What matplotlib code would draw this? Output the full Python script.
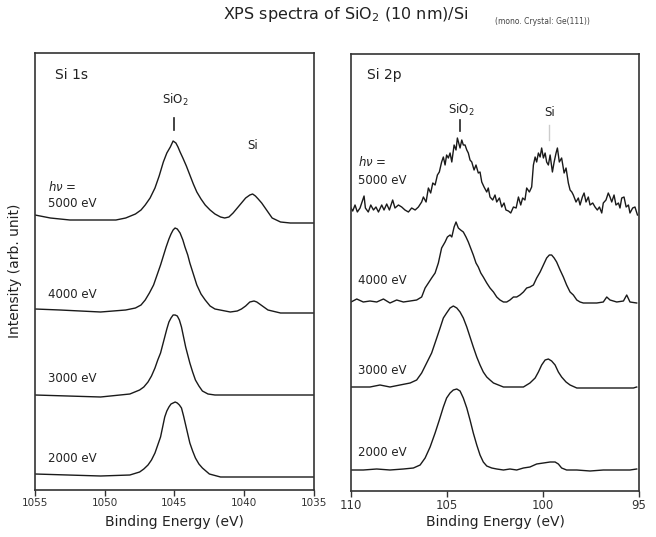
import matplotlib
matplotlib.use("Agg")
import matplotlib.pyplot as plt

# ---------------- data ----------------
# Si 1s panel: binding energy (eV) and intensity (arb. unit) above each baseline
si1s_e_5000 = [1055.0, 1053.9, 1052.5, 1050.3, 1049.2, 1048.5, 1047.8, 1047.4, 1047.1, 1046.75,
               1046.4, 1046.1, 1045.8, 1045.55, 1045.3, 1045.1, 1044.9, 1044.75, 1044.6, 1044.4,
               1044.15, 1043.9, 1043.65, 1043.4, 1043.1, 1042.8, 1042.45, 1042.1, 1041.7, 1041.4,
               1041.1, 1040.8, 1040.5, 1040.2, 1039.9, 1039.6, 1039.4, 1039.2, 1039.0, 1038.75,
               1038.5, 1038.25, 1038.0, 1037.4, 1036.7, 1035.0]
si1s_i_5000 = [5, 2, 0, 0, 0, 2, 6, 10, 15, 22,
               32, 44, 58, 67, 73, 79, 77, 73, 68, 62,
               54, 45, 36, 28, 21, 15, 10, 6, 3, 2,
               3, 7, 12, 17, 22, 25, 26, 24, 21, 17,
               12, 7, 2, -2, -3, -3]

si1s_e_4000 = [1055.0, 1053.2, 1050.3, 1048.5, 1047.8, 1047.4, 1047.1, 1046.8, 1046.5, 1046.25,
               1046.0, 1045.8, 1045.6, 1045.4, 1045.25, 1045.1, 1044.96, 1044.8, 1044.6, 1044.4,
               1044.25, 1044.05, 1043.9, 1043.65, 1043.4, 1043.1, 1042.8, 1042.45, 1042.1, 1041.0,
               1040.5, 1040.2, 1039.9, 1039.6, 1039.3, 1039.1, 1038.9, 1038.6, 1038.3, 1037.4,
               1035.0]
si1s_i_4000 = [1, 0, -2, 0, 2, 5, 10, 17, 25, 35,
               45, 54, 63, 71, 76, 80, 82, 81, 77, 70,
               63, 55, 47, 36, 25, 16, 10, 4, 1, -2,
               -1, 1, 4, 8, 9, 8, 6, 3, 0, -3,
               -3]

si1s_e_3000 = [1055.0, 1050.3, 1048.2, 1047.5, 1047.2, 1046.9, 1046.65, 1046.4, 1046.2, 1046.0,
               1045.85, 1045.7, 1045.55, 1045.4, 1045.25, 1045.1, 1044.95, 1044.8, 1044.65, 1044.5,
               1044.35, 1044.2, 1044.05, 1043.9, 1043.7, 1043.5, 1043.25, 1043.0, 1042.6, 1042.1,
               1035.0]
si1s_i_3000 = [0, -2, 1, 5, 8, 13, 19, 27, 35, 42,
               50, 58, 66, 73, 77, 80, 80, 79, 75, 68,
               58, 48, 40, 32, 23, 15, 9, 4, 1, 0,
               0]

si1s_e_2000 = [1055.0, 1050.3, 1048.2, 1047.5, 1047.2, 1046.9, 1046.65, 1046.4, 1046.2, 1046.0,
               1045.85, 1045.7, 1045.55, 1045.4, 1045.25, 1045.1, 1044.95, 1044.8, 1044.65, 1044.5,
               1044.35, 1044.2, 1044.05, 1043.9, 1043.7, 1043.5, 1043.25, 1043.0, 1042.5, 1041.7,
               1035.0]
si1s_i_2000 = [2, 0, 1, 4, 7, 11, 16, 23, 31, 39,
               49, 59, 65, 69, 72, 73, 74, 73, 71, 68,
               60, 51, 42, 33, 25, 18, 12, 8, 2, -1,
               -1]

# Si 2p panel
si2p_e_5000 = [110.0, 109.91, 109.79, 109.67, 109.53, 109.39, 109.32, 109.25, 109.10, 108.97,
               108.83, 108.70, 108.57, 108.40, 108.28, 108.14, 108.00, 107.83, 107.71, 107.53,
               107.36, 107.19, 107.01, 106.84, 106.66, 106.49, 106.32, 106.23, 106.09, 105.97,
               105.85, 105.74, 105.62, 105.50, 105.40, 105.28, 105.19, 105.10, 105.02, 104.93,
               104.84, 104.75, 104.63, 104.53, 104.46, 104.39, 104.32, 104.23, 104.15, 104.06,
               103.97, 103.89, 103.80, 103.71, 103.59, 103.49, 103.37, 103.28, 103.19, 103.07,
               102.93, 102.85, 102.76, 102.62, 102.50, 102.41, 102.27, 102.15, 102.03, 101.93,
               101.80, 101.68, 101.54, 101.40, 101.28, 101.16, 101.06, 100.94, 100.85, 100.71,
               100.59, 100.50, 100.41, 100.33, 100.24, 100.15, 100.07, 99.98, 99.89, 99.81,
               99.72, 99.63, 99.51, 99.42, 99.32, 99.25, 99.15, 99.03, 98.90, 98.80,
               98.68, 98.59, 98.50, 98.42, 98.28, 98.16, 98.07, 97.95, 97.86, 97.76,
               97.64, 97.55, 97.41, 97.29, 97.17, 97.06, 96.94, 96.86, 96.72, 96.60,
               96.51, 96.42, 96.30, 96.20, 96.07, 95.99, 95.90, 95.78, 95.67, 95.55,
               95.47, 95.33, 95.21, 95.08]
si2p_i_5000 = [0, -3, 3, -4, 0, 8, 12, 0, -4, 3,
               -2, 1, -4, 3, -2, 4, -2, 8, 0, 3,
               1, -2, -4, 0, -2, 1, 6, 11, 6, 20,
               15, 25, 23, 33, 36, 46, 51, 43, 53, 50,
               55, 46, 63, 58, 70, 65, 60, 68, 63, 63,
               58, 55, 48, 46, 38, 43, 35, 36, 26, 21,
               16, 20, 11, 8, 13, 6, 10, 1, 5, -2,
               -3, -5, 1, 0, 11, 3, 10, 8, 20, 16,
               21, 43, 51, 46, 55, 51, 60, 50, 55, 46,
               43, 53, 36, 46, 55, 60, 46, 50, 35, 40,
               25, 18, 16, 13, 6, 10, 3, 11, 15, 6,
               11, 3, 5, 1, -2, 1, -5, 5, 8, 15,
               11, 6, 13, 3, 5, 0, 10, 11, 1, 3,
               -5, 0, 1, -7]

si2p_e_4000 = [110.0, 109.70, 109.36, 109.01, 108.66, 108.31, 107.97, 107.62, 107.27, 106.92,
               106.58, 106.32, 106.14, 105.97, 105.80, 105.62, 105.45, 105.28, 105.10, 104.98,
               104.84, 104.75, 104.63, 104.53, 104.41, 104.29, 104.15, 104.01, 103.89, 103.77,
               103.63, 103.49, 103.37, 103.24, 103.11, 102.93, 102.76, 102.58, 102.41, 102.24,
               102.06, 101.89, 101.72, 101.54, 101.37, 101.20, 101.02, 100.85, 100.68, 100.50,
               100.33, 100.15, 99.98, 99.81, 99.67, 99.55, 99.42, 99.29, 99.11, 98.94,
               98.77, 98.59, 98.42, 98.24, 98.07, 97.90, 97.55, 97.20, 96.86, 96.68,
               96.51, 96.16, 95.81, 95.64, 95.47, 95.12]
si2p_i_4000 = [-1, 2, -1, 0, -1, 2, -2, 1, -1, 0,
               1, 4, 13, 18, 23, 28, 38, 53, 59, 64,
               66, 64, 74, 79, 73, 71, 69, 64, 59, 53,
               46, 38, 34, 28, 24, 18, 13, 9, 4, 1,
               -1, -1, 1, 4, 4, 6, 9, 13, 14, 16,
               23, 29, 36, 43, 46, 46, 43, 39, 31, 24,
               16, 9, 6, 1, -1, -2, -2, -2, -1, 4,
               1, -1, 0, 6, -1, -2]

si2p_e_3000 = [110.0, 109.53, 109.01, 108.49, 107.97, 107.45, 106.92, 106.58, 106.32, 106.06,
               105.80, 105.57, 105.36, 105.19, 105.02, 104.84, 104.67, 104.49, 104.32, 104.15,
               103.97, 103.80, 103.63, 103.45, 103.28, 103.11, 102.93, 102.76, 102.58, 102.32,
               102.06, 101.72, 101.37, 101.02, 100.68, 100.41, 100.24, 100.07, 99.89, 99.72,
               99.55, 99.37, 99.20, 99.03, 98.80, 98.59, 98.24, 97.90, 97.38, 96.86,
               96.33, 95.81, 95.29, 95.12]
si2p_i_3000 = [0, 0, 0, 2, 0, 2, 4, 7, 14, 24,
               34, 47, 59, 69, 74, 79, 81, 79, 75, 69,
               60, 50, 40, 30, 22, 15, 10, 7, 4, 2,
               0, 0, 0, 0, 4, 9, 15, 22, 27, 28,
               26, 22, 15, 10, 5, 2, -1, -1, -1, -1,
               -1, -1, -1, 0]

si2p_e_2000 = [110.0, 109.36, 108.66, 107.97, 107.27, 106.75, 106.40, 106.14, 105.88, 105.62,
               105.40, 105.19, 105.02, 104.84, 104.67, 104.49, 104.32, 104.15, 103.97, 103.80,
               103.63, 103.45, 103.28, 103.11, 102.93, 102.67, 102.41, 102.06, 101.72, 101.37,
               101.02, 100.68, 100.33, 99.98, 99.63, 99.37, 99.20, 99.03, 98.77, 98.24,
               97.55, 96.86, 96.16, 95.47, 95.12]
si2p_i_2000 = [0, 0, 1, 0, 1, 2, 5, 12, 23, 37,
               50, 63, 72, 77, 80, 81, 79, 72, 62, 50,
               37, 25, 15, 8, 4, 2, 1, 0, 1, 0,
               2, 3, 6, 7, 8, 8, 6, 2, 0, 0,
               -1, 0, 0, 0, 1]

photon_labels = ["5000 eV", "4000 eV", "3000 eV", "2000 eV"]
xticks_1s = [1055, 1050, 1045, 1040, 1035]
xticks_2p = [110, 105, 100, 95]

# ---------------- layout / style ----------------
W, H = 656, 537
fig = plt.figure(figsize=(W / 100, H / 100), dpi=100)
fig.patch.set_facecolor("white")

line_kw = dict(color="#1a1a1a", lw=1.0)
txt_color = "#222222"

ax1 = fig.add_axes([35 / W, 1 - 490 / H, 279 / W, 437 / H])
ax2 = fig.add_axes([351 / W, 1 - 491 / H, 288 / W, 437 / H])

# stacking offsets (vertical positions of each baseline)
off_1s = [270, 180, 95, 14]
off_2p = [283, 190, 104, 21]

spec_1s = [(si1s_e_5000, si1s_i_5000), (si1s_e_4000, si1s_i_4000),
           (si1s_e_3000, si1s_i_3000), (si1s_e_2000, si1s_i_2000)]
spec_2p = [(si2p_e_5000, si2p_i_5000), (si2p_e_4000, si2p_i_4000),
           (si2p_e_3000, si2p_i_3000), (si2p_e_2000, si2p_i_2000)]

for (e, i), o in zip(spec_1s, off_1s):
    ax1.plot(e, [v + o for v in i], **line_kw)
for (e, i), o in zip(spec_2p, off_2p):
    ax2.plot(e, [v + o for v in i], **line_kw)

for ax, ticks, lim, fs, lp in [(ax1, xticks_1s, (1055, 1035), 7.5, 5),
                               (ax2, xticks_2p, (110, 95), 8.5, 2)]:
    ax.set_xlim(*lim)
    ax.set_ylim(0, 437)
    ax.set_xticks(ticks)
    ax.set_xticklabels([str(t) for t in ticks], fontsize=fs, color=txt_color)
    ax.set_yticks([])
    ax.tick_params(axis="x", direction="out", length=4, width=1.0, pad=2, colors="#333333")
    for s in ax.spines.values():
        s.set_color("#333333")
        s.set_linewidth(1.2)
    ax.set_xlabel("Binding Energy (eV)", fontsize=10, color=txt_color, labelpad=lp)

# ---- Si 1s annotations
ax1.text(1053.6, 415, "Si 1s", fontsize=10, ha="left", va="center", color=txt_color)
ax1.text(1044.96, 390, "SiO$_2$", fontsize=8.5, ha="center", va="center", color=txt_color)
ax1.plot([1045.04, 1045.04], [360, 372], color="#222222", lw=1.2)
ax1.text(1039.4, 345, "Si", fontsize=8.5, ha="center", va="center", color=txt_color)
ax1.text(1054.1, 303, "$h\\nu$ =", fontsize=8.5, ha="left", va="center", color=txt_color)
for lab, y in zip(photon_labels, [287, 196, 111, 31]):
    ax1.text(1054.1, y, lab, fontsize=8.5, ha="left", va="center", color=txt_color)

# ---- Si 2p annotations
ax2.text(109.17, 416, "Si 2p", fontsize=10, ha="left", va="center", color=txt_color)
ax2.text(104.27, 381, "SiO$_2$", fontsize=8.5, ha="center", va="center", color=txt_color)
ax2.plot([104.32, 104.32], [360, 371], color="#222222", lw=1.2)
ax2.text(99.64, 379, "Si", fontsize=8.5, ha="center", va="center", color=txt_color)
ax2.plot([99.68, 99.68], [351, 366], color="#cccccc", lw=1.0)
ax2.text(109.64, 329, "$h\\nu$ =", fontsize=8.5, ha="left", va="center", color=txt_color)
for lab, y in zip(photon_labels, [311, 211, 121, 39]):
    ax2.text(109.64, y, lab, fontsize=8.5, ha="left", va="center", color=txt_color)

# ---- figure texts
fig.text(346 / W, 1 - 14 / H, "XPS spectra of SiO$_2$ (10 nm)/Si", fontsize=11.5,
         ha="center", va="center", color=txt_color)
fig.text(495 / W, 1 - 22 / H, "(mono. Crystal: Ge(111))", fontsize=5.5,
         ha="left", va="center", color="#444444")
fig.text(15 / W, 1 - 271 / H, "Intensity (arb. unit)", fontsize=10, rotation=90,
         ha="center", va="center", color=txt_color)

fig.savefig("out.png", dpi=100, facecolor="white")
